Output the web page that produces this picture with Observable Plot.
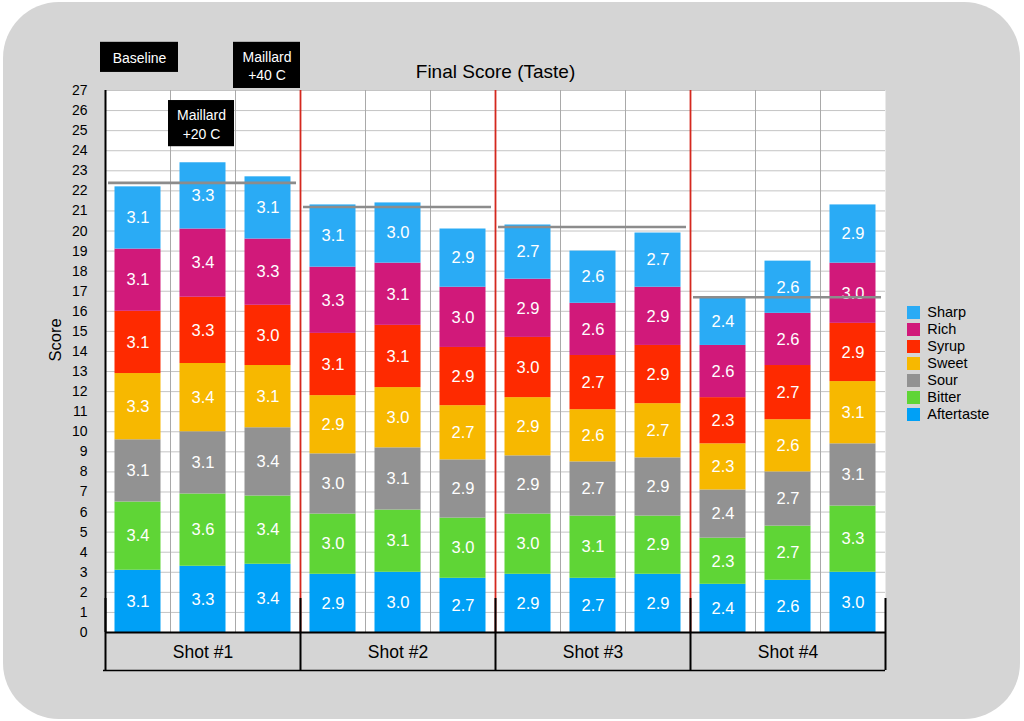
<!DOCTYPE html>
<html>
<head>
<meta charset="utf-8">
<script src="https://cdn.jsdelivr.net/npm/d3@7"></script>
<script src="https://cdn.jsdelivr.net/npm/@observablehq/plot@0.6"></script>
<style>
  html, body { margin: 0; padding: 0; background: #ffffff; }
  #wrap { position: relative; width: 1024px; height: 721px; overflow: hidden; font-family: "Liberation Sans", Arial, sans-serif; }
  #bg { position: absolute; left: 3px; top: 2px; width: 1017px; height: 717px; border-radius: 56px; background: #d5d5d5; }
  #chart { position: absolute; left: 0; top: 0; }
  #chart svg { background: transparent; }
  #legend { position: absolute; left: 907px; top: 304px; }
  #legend, #legend * { font-family: "Liberation Sans", Arial, sans-serif !important; font-size: 14.5px !important; color: #000; }
</style>
</head>
<body>
<div id="wrap"><div id="bg"></div><div id="chart"></div><div id="legend"></div></div>
<script>
// ---- data ----
const shots = ["Shot #1", "Shot #2", "Shot #3", "Shot #4"];
const variants = ["Baseline", "Maillard +20 C", "Maillard +40 C"];
const attributes = ["Aftertaste", "Bitter", "Sour", "Sweet", "Syrup", "Rich", "Sharp"]; // bottom to top
const aftertaste = [3.1, 3.3, 3.4, 2.9, 3.0, 2.7, 2.9, 2.7, 2.9, 2.4, 2.6, 3.0];
const bitter     = [3.4, 3.6, 3.4, 3.0, 3.1, 3.0, 3.0, 3.1, 2.9, 2.3, 2.7, 3.3];
const sour       = [3.1, 3.1, 3.4, 3.0, 3.1, 2.9, 2.9, 2.7, 2.9, 2.4, 2.7, 3.1];
const sweet      = [3.3, 3.4, 3.1, 2.9, 3.0, 2.7, 2.9, 2.6, 2.7, 2.3, 2.6, 3.1];
const syrup      = [3.1, 3.3, 3.0, 3.1, 3.1, 2.9, 3.0, 2.7, 2.9, 2.3, 2.7, 2.9];
const rich       = [3.1, 3.4, 3.3, 3.3, 3.1, 3.0, 2.9, 2.6, 2.9, 2.6, 2.6, 3.0];
const sharp      = [3.1, 3.3, 3.1, 3.1, 3.0, 2.9, 2.7, 2.6, 2.7, 2.4, 2.6, 2.9];
const baselineLevels = [22.4, 21.2, 20.2, 16.7];
const yTicks = d3.range(0, 28);
const annotations = [
  {bar: 0, text: "Baseline"},
  {bar: 1, text: "Maillard\n+20 C"},
  {bar: 2, text: "Maillard\n+40 C"}
];

// ---- styles / layout ----
const palette = ["#00a0f6", "#5fd536", "#929292", "#f7b800", "#fe2a00", "#d1197a", "#2aabf5"];
const annotLayout = [
  {y1: 27.9, y2: 29.4, l: -5, r: -8, dx: 1.5},
  {y1: 24.2, y2: 26.5, l: -2, r: 1, dx: -1.5},
  {y1: 27.1, y2: 29.4, l: -2, r: 0, dx: -1}
];
const font = "Liberation Sans, Arial, sans-serif";

// ---- build rows ----
const series = {Aftertaste: aftertaste, Bitter: bitter, Sour: sour, Sweet: sweet, Syrup: syrup, Rich: rich, Sharp: sharp};
const nBars = shots.length * variants.length;
const rows = [];
for (let b = 0; b < nBars; b++) {
  let acc = 0;
  for (const a of attributes) {
    const v = series[a][b];
    rows.push({bar: b, shot: shots[Math.floor(b / variants.length)], variant: variants[b % variants.length], attribute: a, value: v, y1: acc, y2: acc + v});
    acc += v;
  }
}
const groupEdges = d3.range(0, nBars + 1, variants.length);
const innerGroupEdges = groupEdges.slice(1, -1);
const slotEdges = d3.range(1, nBars).filter(i => i % variants.length !== 0);

const marks = [
  Plot.frame({fill: "white", stroke: "none"}),
  Plot.ruleY(yTicks.slice(1), {stroke: "#c4c4c4", strokeWidth: 1}),
  Plot.ruleX(slotEdges, {stroke: "#a9a9a9", strokeWidth: 1}),
  Plot.rect(rows, {x1: "bar", x2: d => d.bar + 1, y1: "y1", y2: "y2", fill: "attribute", insetLeft: 9.5, insetRight: 9.5}),
  Plot.text(rows, {x: d => d.bar + 0.5, y: d => (d.y1 + d.y2) / 2, text: d => d.value.toFixed(1), fill: "white", fontSize: 16.5, fontFamily: font}),
  Plot.ruleX(innerGroupEdges, {stroke: "#d4281e", strokeWidth: 1.8}),
  Plot.ruleY(baselineLevels, {x1: (d, i) => i * variants.length, x2: (d, i) => (i + 1) * variants.length, y: d => d, stroke: "#8c8c8c", strokeWidth: 2.6, insetLeft: 3, insetRight: 4}),
  Plot.ruleX([0], {stroke: "black", strokeWidth: 2}),
  Plot.ruleY([0], {stroke: "black", strokeWidth: 2}),
  Plot.ruleY([0], {dy: 38, stroke: "black", strokeWidth: 1.5, insetLeft: -2}),
  Plot.ruleX(groupEdges, {y1: 0, y2: 0, insetTop: -34, insetBottom: -38, stroke: "black", strokeWidth: 2}),
  Plot.text(shots, {x: (d, i) => i * variants.length + variants.length / 2, y: 0, dy: 20, text: d => d, fill: "black", fontSize: 17.5, fontFamily: font}),
  Plot.axisY(yTicks, {tickSize: 0, tickPadding: 18, fontSize: 14, fontFamily: font, label: null, fill: "black"}),
  Plot.text(["Score"], {frameAnchor: "left", dx: -50, rotate: -90, fontSize: 16.5, fontFamily: font, fill: "black"}),
  Plot.text(["Final Score (Taste)"], {frameAnchor: "top", dy: -26, fontSize: 19, fontFamily: font, fill: "black"})
];
annotations.forEach((a, k) => {
  const L = annotLayout[k];
  marks.push(Plot.rect([a], {x1: d => d.bar, x2: d => d.bar + 1, y1: L.y1, y2: L.y2, insetLeft: L.l, insetRight: L.r, fill: "black"}));
  marks.push(Plot.text([a], {x: d => d.bar + 0.5, y: (L.y1 + L.y2) / 2, dx: L.dx, text: "text", fill: "white", fontSize: 14, lineHeight: 1.3, fontFamily: font}));
});

const chart = Plot.plot({
  width: 1024,
  height: 721,
  marginLeft: 105,
  marginRight: 139,
  marginTop: 90,
  marginBottom: 89,
  style: {background: "transparent", fontFamily: font},
  x: {domain: [0, nBars], axis: null},
  y: {domain: [0, 27]},
  color: {domain: attributes, range: palette},
  marks
});
document.getElementById("chart").appendChild(chart);

const legendOrder = attributes.slice().reverse();
const legend = Plot.legend({
  color: {domain: legendOrder, range: palette.slice().reverse()},
  legend: "swatches",
  columns: 1,
  swatchSize: 13
});
document.getElementById("legend").appendChild(legend);
</script>
</body>
</html>
